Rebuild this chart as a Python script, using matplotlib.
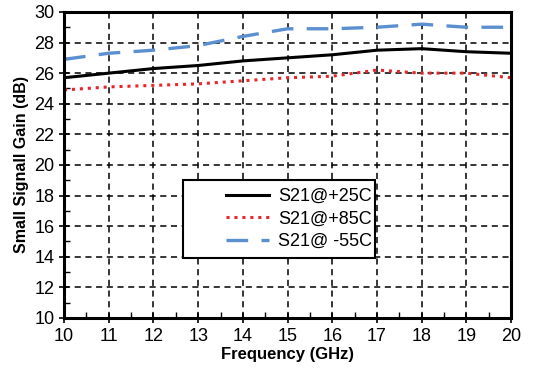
import numpy as np
import matplotlib
matplotlib.use("Agg")
import matplotlib.pyplot as plt
from matplotlib.ticker import MultipleLocator
from matplotlib.patches import Rectangle

plt.rcParams['font.family'] = ['Liberation Sans', 'DejaVu Sans']

freq = [10, 11, 12, 13, 14, 15, 16, 17, 18, 19, 20]
s21_p25 = [25.7, 26.0, 26.3, 26.5, 26.8, 27.0, 27.2, 27.5, 27.6, 27.4, 27.3]
s21_p85 = [24.9, 25.1, 25.2, 25.3, 25.5, 25.7, 25.8, 26.2, 26.0, 26.0, 25.7]
s21_m55 = [26.9, 27.3, 27.5, 27.8, 28.4, 28.9, 28.9, 29.0, 29.2, 29.0, 29.0]

fig = plt.figure(figsize=(5.49, 3.73), dpi=100)
ax = fig.add_axes([0.1166, 0.1475, 0.8144, 0.8205])

ax.plot(freq, s21_p25, color='black', lw=2.2, label='S21@+25C')
ax.plot(freq, s21_p85, color='#e8262a', lw=2.2, ls=(0, (1, 1.6)), label='S21@+85C')
ax.plot(freq, s21_m55, color='#5b8fd0', lw=2.4, ls=(0, (6.5, 4)), label='S21@ -55C')

ax.set_xlim(10, 20)
ax.set_ylim(10, 30)
ax.xaxis.set_major_locator(MultipleLocator(1))
ax.xaxis.set_minor_locator(MultipleLocator(0.5))
ax.yaxis.set_major_locator(MultipleLocator(2))
ax.yaxis.set_minor_locator(MultipleLocator(1))
ax.tick_params(which='major', direction='inout', length=7, width=1.2, labelsize=13)
ax.tick_params(which='minor', direction='in', length=4, width=1.0)
ax.grid(True, which='major', color='black', ls=(0, (4, 3)), lw=1.1)
for s in ax.spines.values():
    s.set_linewidth(2.2)

ax.set_xlabel('Frequency (GHz)', fontsize=12, fontweight='bold', labelpad=2)
ax.set_ylabel('Small Signall Gain (dB)', fontsize=11.5, fontweight='bold', labelpad=4)

# legend box drawn separately, entries sit at its right side
box = Rectangle((0.266, 0.196), 0.43, 0.254, transform=ax.transAxes,
                facecolor='white', edgecolor='black', lw=1.5, zorder=5)
ax.add_patch(box)
leg = ax.legend(loc='center right', bbox_to_anchor=(0.689, 0.323), frameon=False,
                fontsize=13, borderaxespad=0, handlelength=2.4, handletextpad=0.5,
                labelspacing=0.3, borderpad=0)
leg.set_zorder(6)

fig.savefig('out.png', dpi=100)
